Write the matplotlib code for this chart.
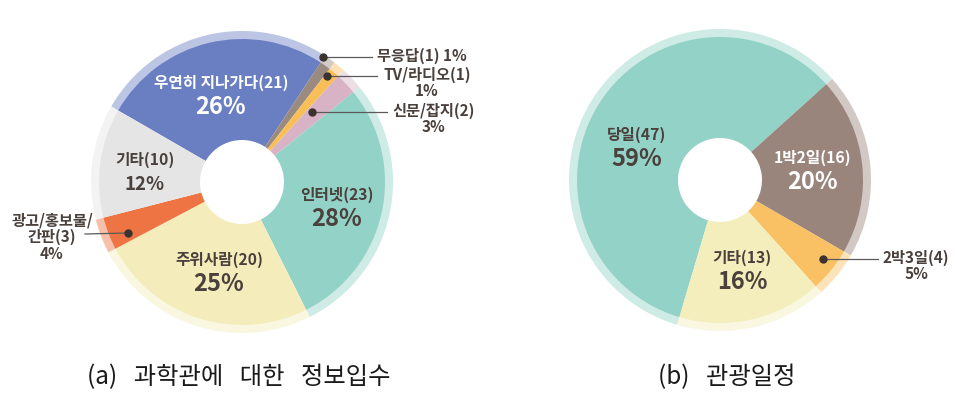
import matplotlib.pyplot as plt
from matplotlib.colors import to_rgb

plt.rcParams['font.family'] = ['Noto Sans CJK KR', 'DejaVu Sans']

# (a) 과학관에 대한 정보입수 -- clockwise from upper left
info_labels = ['우연히 지나가다', '무응답', 'TV/라디오', '신문/잡지', '인터넷', '주위사람', '광고/홍보물/\n간판', '기타']
info_counts = [21, 1, 1, 2, 23, 20, 3, 10]
info_pcts = [26, 1, 1, 3, 28, 25, 4, 12]
info_colors = ['#6a7ec2', '#9a8a80', '#f9bf57', '#d8b3c6', '#93d2c7', '#f4edbb', '#ee7444', '#e5e5e5']

# (b) 관광일정
trip_labels = ['당일', '1박2일', '2박3일', '기타']
trip_counts = [47, 16, 4, 13]
trip_pcts = [59, 20, 5, 16]
trip_colors = ['#93d2c7', '#9a857c', '#f9c163', '#f4eebc']

W, H = 969, 407
TXT = '#4a403c'
LINE = '#5a5a5a'


def lighten(c, amount=0.5):
    r, g, b = to_rgb(c)
    return (r + (1 - r) * amount, g + (1 - g) * amount, b + (1 - b) * amount)


def Y(y):
    # image row -> axes y
    return H - y


def donut(ax, counts, colors, center, startangle, r=143, hole=42, halo=8):
    ax.pie(counts, colors=[lighten(c, 0.55) for c in colors], radius=r + halo,
           center=center, startangle=startangle, counterclock=False,
           wedgeprops=dict(width=2 * halo + 4, linewidth=0))
    ax.pie(counts, colors=colors, radius=r, center=center,
           startangle=startangle, counterclock=False,
           wedgeprops=dict(width=r - hole, linewidth=0))


def inside_label(ax, name, count, pct, xy, color=TXT, pct_size=17):
    x, y = xy
    ax.text(x, Y(y), f"{name}({count})", ha='center', va='center',
            fontsize=11.3, fontweight='bold', color=color)
    ax.text(x, Y(y + 24), f"{pct}%", ha='center', va='center',
            fontsize=pct_size, fontweight='bold', color=color)


def outside_label(ax, text, xy, dot, line_end, ha='center'):
    ax.plot([dot[0], line_end[0]], [Y(dot[1]), Y(line_end[1])],
            color=LINE, lw=0.9, zorder=5)
    ax.plot(dot[0], Y(dot[1]), 'o', color='#3b3330', ms=5, zorder=6)
    ax.text(xy[0], Y(xy[1]), text, ha=ha, va='center', fontsize=11,
            fontweight='bold', color=TXT, linespacing=1.05)


fig = plt.figure(figsize=(W / 100, H / 100), dpi=100)
ax = fig.add_axes([0, 0, 1, 1])

# left donut
donut(ax, info_counts, info_colors, (242, Y(182)), 150)
inside_label(ax, info_labels[0], info_counts[0], info_pcts[0], (221, 83), color='white')
inside_label(ax, info_labels[7], info_counts[7], info_pcts[7], (145, 160), pct_size=13.5)
inside_label(ax, info_labels[4], info_counts[4], info_pcts[4], (337, 195))
inside_label(ax, info_labels[5], info_counts[5], info_pcts[5], (219, 260))
outside_label(ax, f"{info_labels[1]}({info_counts[1]}) {info_pcts[1]}%",
              (377, 56), (323, 57), (372, 57), ha='left')
outside_label(ax, f"{info_labels[2]}({info_counts[2]})\n{info_pcts[2]}%",
              (427, 83), (327, 76), (377, 76))
outside_label(ax, f"{info_labels[3]}({info_counts[3]})\n{info_pcts[3]}%",
              (434, 119), (312, 112), (387, 112))
outside_label(ax, f"광고/홍보물/\n간판({info_counts[6]})\n{info_pcts[6]}%",
              (52, 237), (128, 233), (85, 234))

# right donut
donut(ax, trip_counts, trip_colors, (720, Y(180)), -106.5)
inside_label(ax, trip_labels[0], trip_counts[0], trip_pcts[0], (637, 135))
inside_label(ax, trip_labels[1], trip_counts[1], trip_pcts[1], (813, 158), color='white')
inside_label(ax, trip_labels[3], trip_counts[3], trip_pcts[3], (742, 258))
outside_label(ax, f"{trip_labels[2]}({trip_counts[2]})\n{trip_pcts[2]}%",
              (916, 266), (823, 259), (878, 259))

# captions
gap = "   "
ax.text(239, Y(377), gap.join(["(a)", "과학관에", "대한", "정보입수"]),
        ha='center', va='center', fontsize=17.5, color='#1a1a1a',
        fontweight='light')
ax.text(727, Y(377), gap.join(["(b)", "관광일정"]),
        ha='center', va='center', fontsize=17.5, color='#1a1a1a',
        fontweight='light')

ax.set_xlim(0, W)
ax.set_ylim(0, H)
ax.set_aspect('equal')
ax.axis('off')

fig.savefig('out.png', dpi=100, facecolor='white')
